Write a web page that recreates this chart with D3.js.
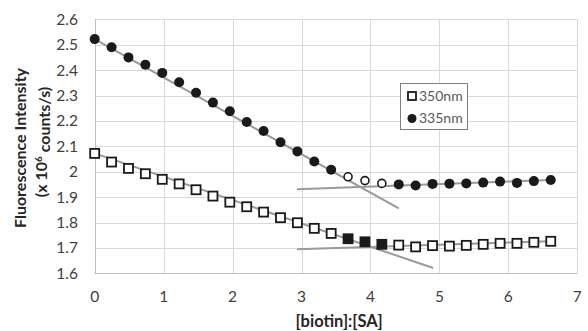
<!DOCTYPE html>
<html><head><meta charset="utf-8">
<script src="https://cdn.jsdelivr.net/npm/d3@7"></script>
<style>body{margin:0;background:#fff}svg{display:block}</style>
</head><body>
<svg id="c" width="588" height="331"></svg>
<script>
const xVals = [0,0.245,0.49,0.735,0.98,1.225,1.47,1.715,1.96,2.205,2.45,2.695,2.94,3.185,3.43,3.675,3.92,4.165,4.41,4.655,4.9,5.145,5.39,5.635,5.88,6.125,6.37,6.615];
const y335 = [2.522,2.490,2.450,2.421,2.389,2.352,2.311,2.272,2.238,2.196,2.160,2.116,2.080,2.040,2.008,1.980,1.965,1.954,1.950,1.946,1.952,1.953,1.954,1.957,1.961,1.956,1.963,1.967];
const y350 = [2.072,2.038,2.013,1.992,1.970,1.952,1.929,1.904,1.880,1.862,1.841,1.819,1.799,1.777,1.757,1.736,1.724,1.714,1.711,1.704,1.709,1.707,1.710,1.714,1.718,1.718,1.722,1.726];
const open335 = [15,16,17];   // indices drawn as open circles
const filled350 = [15,16,17]; // indices drawn as filled squares
// fitted trend lines
const fit335a = [[0,2.522],[4.41,1.856]];
const fit335b = [[2.934,1.931],[6.615,1.967]];
const fit350a = [[0,2.072],[4.91,1.621]];
const fit350b = [[2.934,1.695],[6.615,1.726]];
const xTicks = [0,1,2,3,4,5,6,7];
const yTicks = [1.6,1.7,1.8,1.9,2,2.1,2.2,2.3,2.4,2.5,2.6];
const legendLabels = ["350nm","335nm"];

const svg = d3.select("#c");
const font = "Lato, 'Open Sans', sans-serif";
const x = d3.scaleLinear().domain([0,7]).range([94.7,577.3]);
const y = d3.scaleLinear().domain([1.6,2.6]).range([273.3,19.3]);

// grid
svg.append("g").selectAll("line").data(yTicks).join("line")
  .attr("x1",x(0)).attr("x2",x(7)).attr("y1",d=>Math.round(y(d))+0.5).attr("y2",d=>Math.round(y(d))+0.5)
  .attr("stroke",d=>d===1.6?"#bfbfbf":"#d9d9d9").attr("stroke-width",1);
svg.append("g").selectAll("line").data(xTicks).join("line")
  .attr("y1",y(1.6)).attr("y2",y(2.6)).attr("x1",d=>Math.round(x(d))+0.5).attr("x2",d=>Math.round(x(d))+0.5)
  .attr("stroke",d=>d===0?"#bfbfbf":"#d9d9d9").attr("stroke-width",1);

// tick labels
svg.append("g").selectAll("text").data(yTicks).join("text")
  .attr("x",78).attr("y",d=>y(d)).attr("dy","0.35em").attr("text-anchor","end")
  .attr("font-family",font).attr("font-size",15.5).attr("fill","#404040")
  .text(d=>d3.format("")(d));
svg.append("g").selectAll("text").data(xTicks).join("text")
  .attr("x",d=>x(d)).attr("y",297).attr("dy","0.35em").attr("text-anchor","middle")
  .attr("font-family",font).attr("font-size",15.5).attr("fill","#404040")
  .text(d=>d);

// axis titles
svg.append("text").attr("x",339).attr("y",321).attr("dy","0.35em").attr("text-anchor","middle")
  .attr("font-family",font).attr("font-size",16.5).attr("font-weight","bold").attr("fill","#262626")
  .text("[biotin]:[SA]");
const yt = svg.append("g").attr("transform","translate(20,148) rotate(-90)");
yt.append("text").attr("text-anchor","middle").attr("dy","0.35em")
  .attr("font-family",font).attr("font-size",16).attr("font-weight","bold").attr("fill","#262626")
  .text("Fluorescence Intensity");
const t2 = svg.append("g").attr("transform","translate(41,142) rotate(-90)").append("text")
  .attr("text-anchor","middle").attr("dy","0.35em")
  .attr("font-family",font).attr("font-size",16).attr("font-weight","bold").attr("fill","#262626");
t2.append("tspan").text("(x 10");
t2.append("tspan").attr("font-size",10).attr("dy","-0.5em").text("6");
t2.append("tspan").attr("dy","0.5em").text(" counts/s)");

// trend lines
const line = d3.line().x(d=>x(d[0])).y(d=>y(d[1]));
[fit335a,fit335b,fit350a,fit350b].forEach(f=>{
  svg.append("path").attr("d",line(f)).attr("fill","none").attr("stroke","#9a9a9a").attr("stroke-width",2);
});

// markers
const data350 = xVals.map((v,i)=>({x:v,y:y350[i],i}));
const data335 = xVals.map((v,i)=>({x:v,y:y335[i],i}));
svg.append("g").selectAll("rect").data(data350).join("rect")
  .attr("x",d=>x(d.x)-4.5).attr("y",d=>y(d.y)-4.5).attr("width",9).attr("height",9)
  .attr("fill",d=>filled350.includes(d.i)?"#1a1a1a":"#fff").attr("stroke","#1a1a1a").attr("stroke-width",1.8);
svg.append("g").selectAll("circle").data(data335).join("circle")
  .attr("cx",d=>x(d.x)).attr("cy",d=>y(d.y)).attr("r",d=>open335.includes(d.i)?4:5)
  .attr("fill",d=>open335.includes(d.i)?"#fff":"#1a1a1a").attr("stroke","#1a1a1a")
  .attr("stroke-width",d=>open335.includes(d.i)?1.6:0);

// legend
const lg = svg.append("g");
lg.append("rect").attr("x",400.5).attr("y",83.5).attr("width",67).attr("height",46)
  .attr("fill","#fff").attr("stroke","#808080").attr("stroke-width",1);
lg.append("rect").attr("x",408).attr("y",92).attr("width",8).attr("height",8)
  .attr("fill","#fff").attr("stroke","#1a1a1a").attr("stroke-width",1.8);
lg.append("circle").attr("cx",412).attr("cy",118.5).attr("r",4.5).attr("fill","#1a1a1a");
lg.selectAll("text").data(legendLabels).join("text")
  .attr("x",419).attr("y",(d,i)=>96+i*22.5).attr("dy","0.35em")
  .attr("font-family",font).attr("font-size",14).attr("fill","#595959").text(d=>d);
</script>
</body></html>
